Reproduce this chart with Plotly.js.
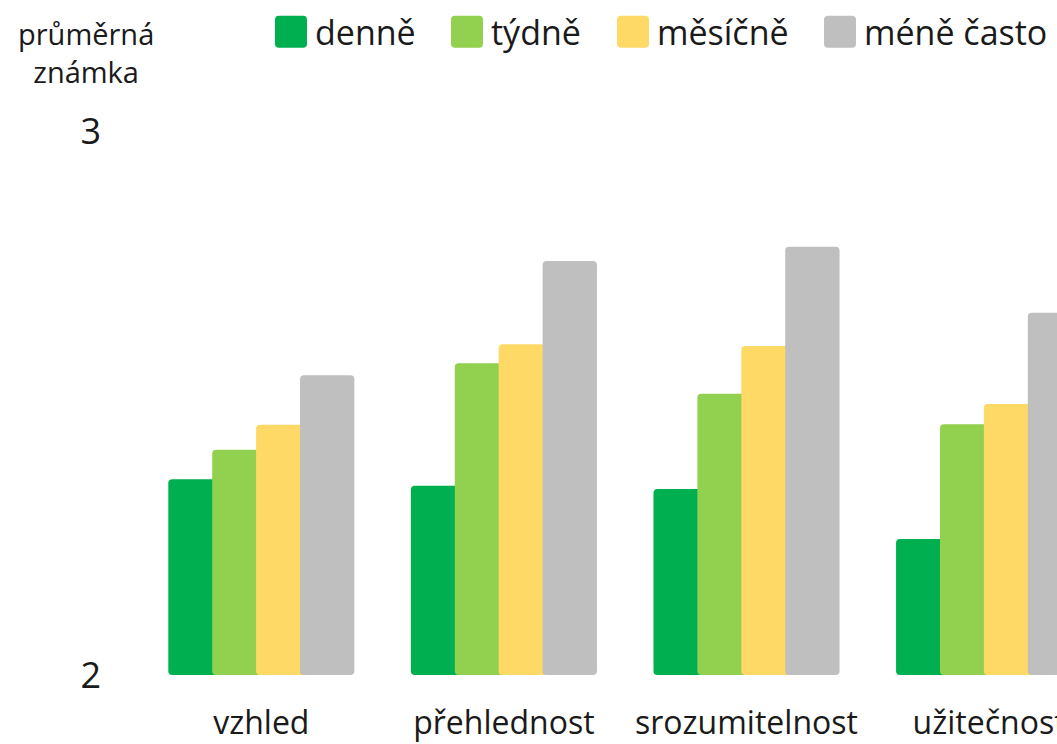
<!DOCTYPE html>
<html>
<head>
<meta charset="utf-8">
<script src="https://cdn.plot.ly/plotly-3.0.1.min.js"></script>
<style>html,body{margin:0;padding:0;background:#fff;}#chart{width:1057px;height:744px;}</style>
</head>
<body>
<div id="chart"></div>
<script>
// ---- data ----
const categories = ['vzhled', 'přehlednost', 'srozumitelnost', 'užitečnost'];
const seriesNames = ['denně', 'týdně', 'měsíčně', 'méně často'];
const denne   = [2.360, 2.348, 2.342, 2.250];
const tydne   = [2.414, 2.573, 2.517, 2.461];
const mesicne = [2.460, 2.608, 2.605, 2.498];
const mene    = [2.551, 2.761, 2.787, 2.666];
const yTickVals = [2, 3];
const yTickText = ['2', '3'];
const yTitleLines = ['průměrná', 'známka'];

// ---- styling ----
const colors = ['#00B050', '#92D050', '#FFD966', '#BFBFBF'];
const FONT = '"Open Sans", "Noto Sans", sans-serif';
const TXT = '#1a1a1a';
const W = 1057, H = 744;
const L = 140, R = 0, T = 130.5, B = H - 675.5;
const plotW = W - L - R, plotH = H - T - B;
const px = x => (x - L) / plotW;
const py = y => (H - B - y) / plotH;

const offsets = [-0.3834, -0.2024, -0.0214, 0.1596];
const barW = 0.224;
const values = [denne, tydne, mesicne, mene];

const traces = values.map((v, i) => ({
  type: 'bar',
  name: seriesNames[i],
  x: categories,
  y: v.map(val => val - yTickVals[0]),
  base: yTickVals[0],
  offset: offsets[i],
  width: barW,
  marker: {color: colors[i], cornerradius: 4, line: {width: 0}},
  hoverinfo: 'x+name'
}));

// custom legend: rounded swatches + text
const swatchX = [275, 451, 617, 824];
const textX = [313, 489, 655, 862];
const swY0 = 15, swY1 = 47, swS = 32, rad = 4;
const shapes = [];
const annotations = [];
function roundRectPath(x0, y0, x1, y1, r) {
  const X = v => px(v), Y = v => py(v);
  return `M ${X(x0 + r)} ${Y(y0)} L ${X(x1 - r)} ${Y(y0)} Q ${X(x1)} ${Y(y0)} ${X(x1)} ${Y(y0 + r)} ` +
         `L ${X(x1)} ${Y(y1 - r)} Q ${X(x1)} ${Y(y1)} ${X(x1 - r)} ${Y(y1)} ` +
         `L ${X(x0 + r)} ${Y(y1)} Q ${X(x0)} ${Y(y1)} ${X(x0)} ${Y(y1 - r)} ` +
         `L ${X(x0)} ${Y(y0 + r)} Q ${X(x0)} ${Y(y0)} ${X(x0 + r)} ${Y(y0)} Z`;
}
seriesNames.forEach((n, i) => {
  shapes.push({
    type: 'path', xref: 'paper', yref: 'paper',
    path: roundRectPath(swatchX[i], swY0, swatchX[i] + swS, swY1, rad),
    fillcolor: colors[i], line: {width: 0}
  });
  annotations.push({
    xref: 'paper', yref: 'paper', x: px(textX[i]), y: py(31),
    xanchor: 'left', yanchor: 'middle', showarrow: false,
    text: n, font: {family: FONT, size: 34, color: TXT}
  });
});
annotations.push({
  xref: 'paper', yref: 'paper', x: px(86), y: py(52),
  xanchor: 'center', yanchor: 'middle', showarrow: false, align: 'center',
  text: yTitleLines.join('<br>'), font: {family: FONT, size: 29, color: TXT}
});

const layout = {
  width: W, height: H,
  margin: {l: L, r: R, t: T, b: B, pad: 0},
  paper_bgcolor: '#ffffff', plot_bgcolor: '#ffffff',
  barmode: 'overlay',
  showlegend: false,
  font: {family: FONT, color: TXT},
  xaxis: {
    type: 'category',
    range: [-0.5, 3.28],
    showgrid: false, zeroline: false, showline: false,
    ticks: '', ticklabelstandoff: 26,
    tickfont: {family: FONT, size: 32, color: TXT},
    fixedrange: true
  },
  yaxis: {
    range: [2, 3],
    tickvals: yTickVals, ticktext: yTickText,
    showgrid: false, zeroline: false, showline: false,
    ticks: '', ticklabelstandoff: 38,
    tickfont: {family: FONT, size: 36, color: TXT},
    fixedrange: true
  },
  shapes: shapes,
  annotations: annotations
};

Plotly.newPlot('chart', traces, layout, {displayModeBar: false, staticPlot: true});
</script>
</body>
</html>
